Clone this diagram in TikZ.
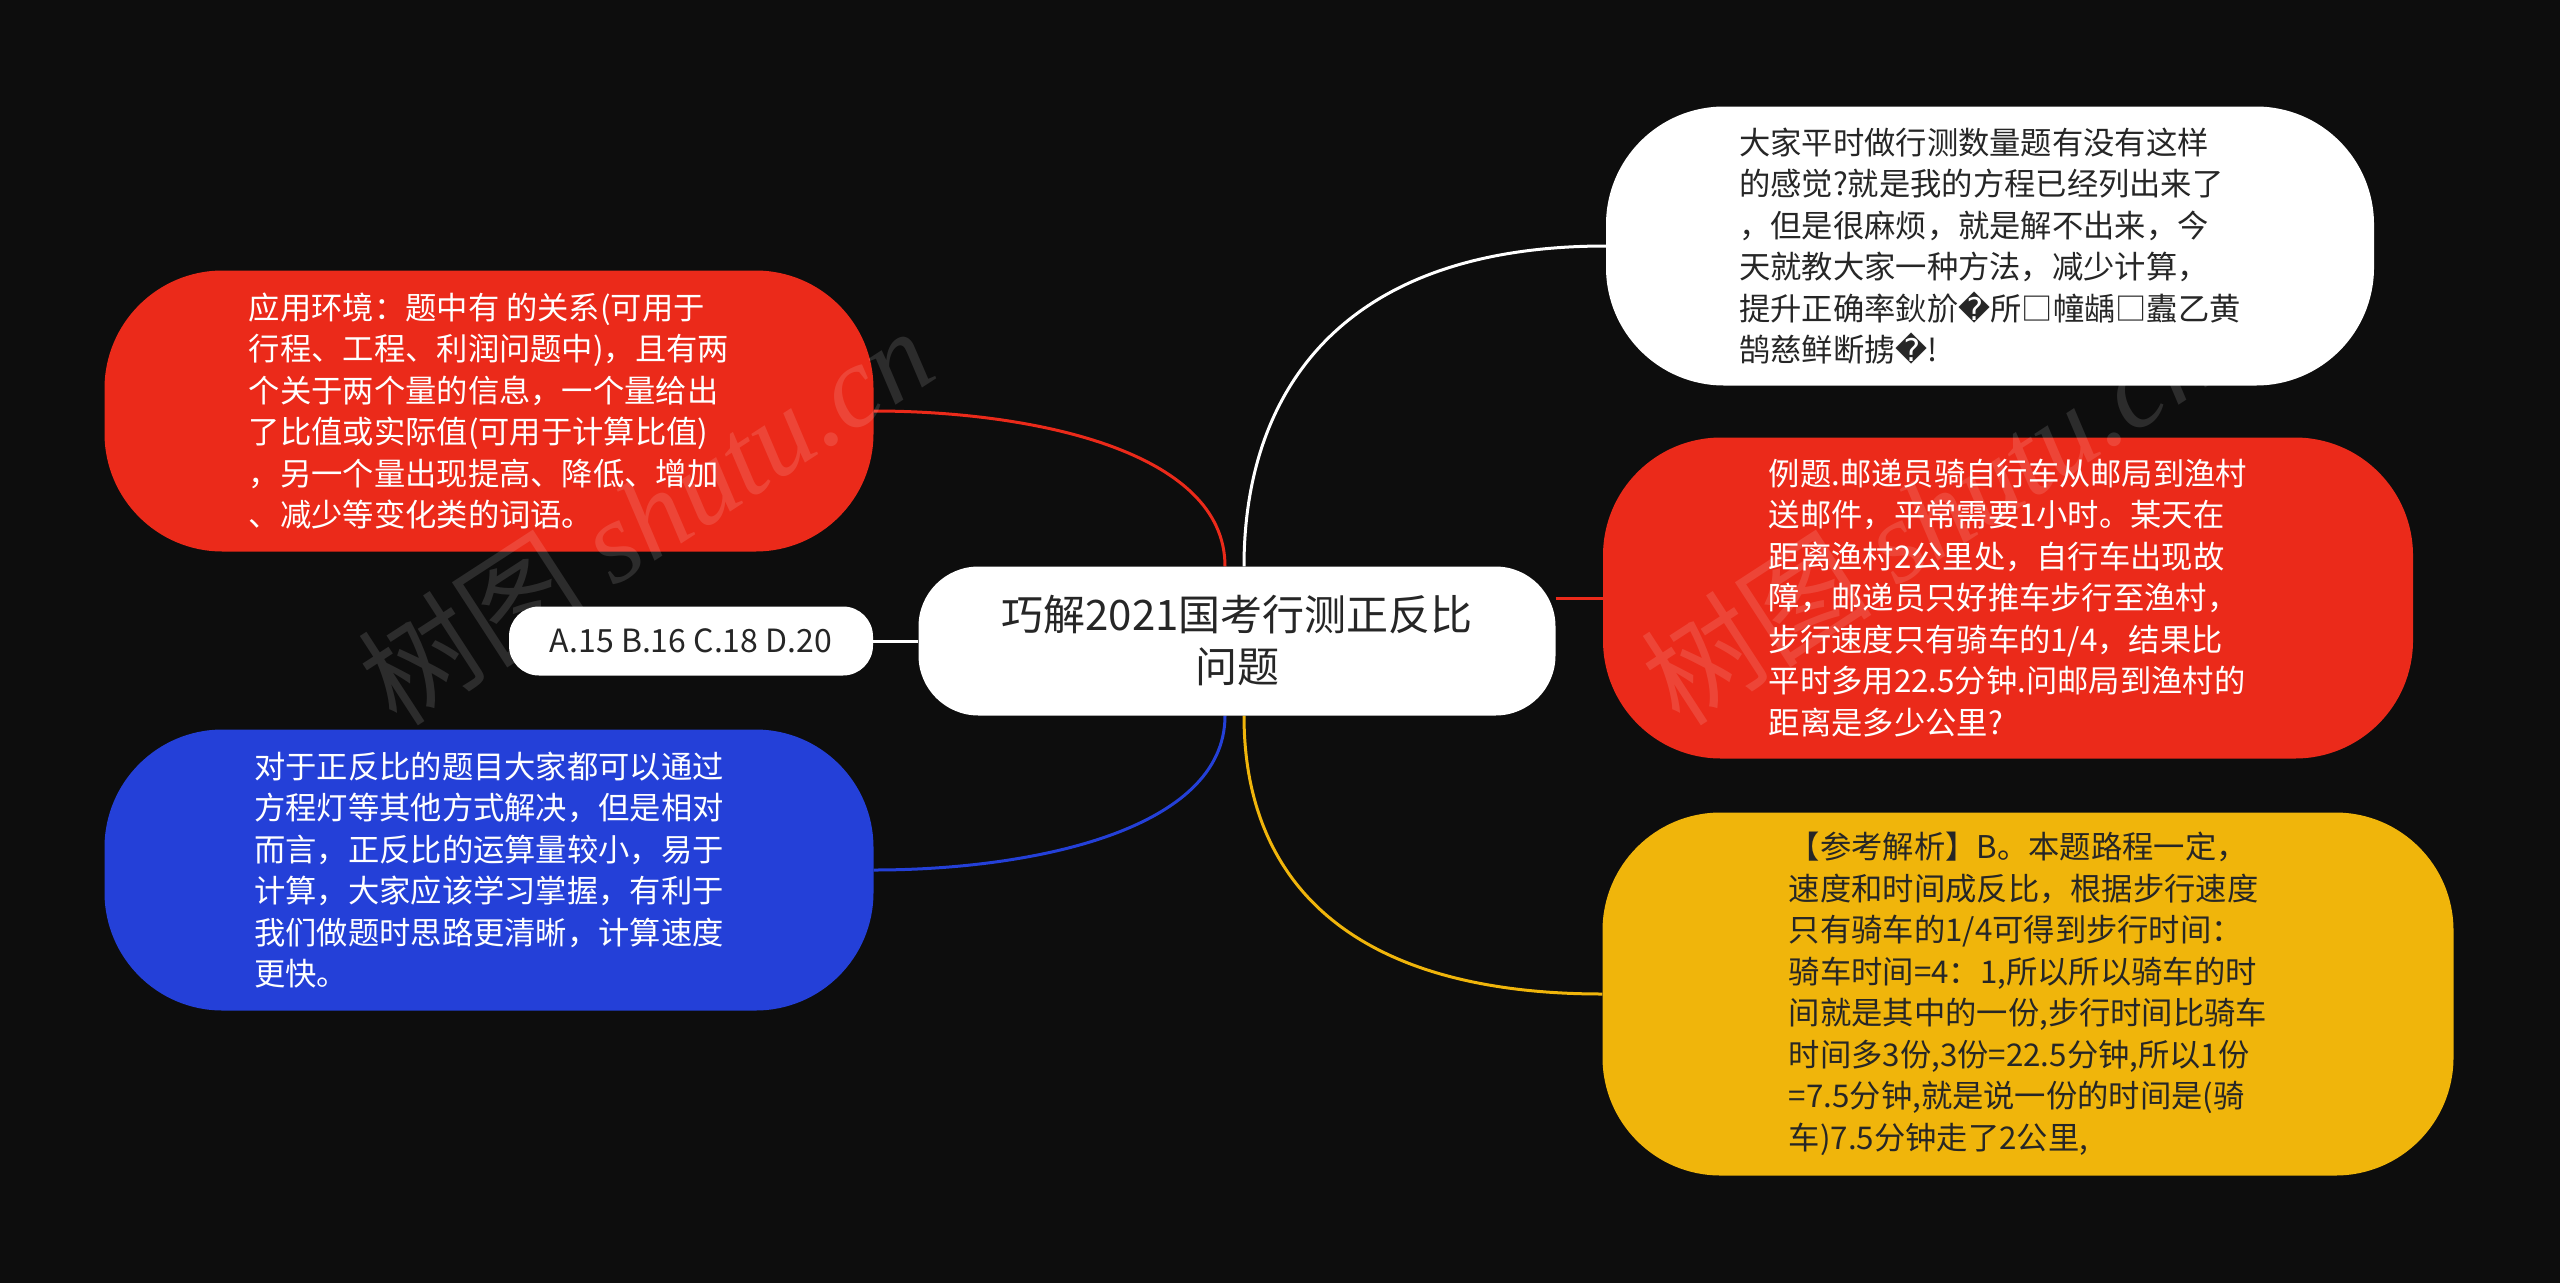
\documentclass[tikz,border=0pt]{standalone}
\usepackage{fontspec}
\setmainfont{Noto Sans CJK SC}
\newfontfamily\dejavufont{DejaVu Sans}
\newfontfamily\wmserif{Liberation Serif}
\newcommand{\repchar}{{\dejavufont\char"FFFD}}
\definecolor{bgc}{HTML}{0D0D0D}
\definecolor{redc}{HTML}{EB2A1A}
\definecolor{bluec}{HTML}{2440D8}
\definecolor{yelc}{HTML}{F0B50B}
\definecolor{txtdark}{HTML}{262626}
\pgfdeclarelayer{bg}
\pgfdeclarelayer{back}
\pgfsetlayers{back,bg,main}
\tikzset{
  bubble/.style={rectangle, rounded corners=118pt, inner sep=0pt, align=left,
    font=\fontsize{31.3pt}{41.5pt}\selectfont},
  conn/.style={line width=3pt},
  wmark/.style={rotate=33, text=white, opacity=0.13,
    font=\fontsize{116pt}{116pt}\selectfont}
}
\begin{document}
\begin{tikzpicture}[x=1pt,y=-1pt]
\begin{pgfonlayer}{back}
\fill[bgc] (0,0) rectangle (2560,1283);
\end{pgfonlayer}
\useasboundingbox (0,0) rectangle (2560,1283);

% central node
\node[rectangle, rounded corners=60pt, fill=white, text=txtdark, align=center,
  minimum width=637pt, minimum height=149pt, inner sep=0pt,
  font=\fontsize{42pt}{52pt}\selectfont] (c) at (1237,641)
  {巧解2021国考行测正反比\\问题};

% options node
\node[rectangle, rounded corners=30pt, fill=white, text=txtdark,
  minimum width=364pt, minimum height=69pt, inner sep=0pt,
  font=\fontsize{32pt}{36pt}\selectfont] (opt) at (691,641)
  {A.15 B.16 C.18 D.20};

% left red
\node[bubble, fill=redc, text=white, minimum width=769pt, minimum height=281pt] (lr) at (489,411)
  {应用环境：题中有 的关系(可用于\\行程、工程、利润问题中)，且有两\\个关于两个量的信息，一个量给出\\了比值或实际值(可用于计算比值)\\，另一个量出现提高、降低、增加\\、减少等变化类的词语。};

% left blue
\node[bubble, fill=bluec, text=white, minimum width=769pt, minimum height=281pt] (lb) at (489,870)
  {对于正反比的题目大家都可以通过\\方程灯等其他方式解决，但是相对\\而言，正反比的运算量较小，易于\\计算，大家应该学习掌握，有利于\\我们做题时思路更清晰，计算速度\\更快。};

% right white
\node[bubble, fill=white, text=txtdark, minimum width=768pt, minimum height=279pt] (rw) at (1990,246)
  {大家平时做行测数量题有没有这样\\的感觉?就是我的方程已经列出来了\\，但是很麻烦，就是解不出来，今\\天就教大家一种方法，减少计算，\\提升正确率鈥斺\repchar 所□幢龋□蠹乙黄\\鹄慈鲜断掳\repchar !};

% right red
\node[bubble, fill=redc, text=white, minimum width=810pt, minimum height=321pt] (rr) at (2008,598)
  {例题.邮递员骑自行车从邮局到渔村\\送邮件，平常需要1小时。某天在\\距离渔村2公里处，自行车出现故\\障，邮递员只好推车步行至渔村，\\步行速度只有骑车的1/4，结果比\\平时多用22.5分钟.问邮局到渔村的\\距离是多少公里?};

% right yellow
\node[bubble, fill=yelc, text=txtdark, minimum width=851pt, minimum height=363pt] (ry) at (2028,994)
  {【参考解析】B。本题路程一定，\\速度和时间成反比，根据步行速度\\只有骑车的1/4可得到步行时间：\\骑车时间=4：1,所以所以骑车的时\\间就是其中的一份,步行时间比骑车\\时间多3份,3份=22.5分钟,所以1份\\=7.5分钟,就是说一份的时间是(骑\\车)7.5分钟走了2公里,};

% connectors
\begin{pgfonlayer}{bg}
\draw[conn, redc] ([xshift=-12pt]c.north) .. controls +(0,-116) and +(157,0) .. (lr.east);
\draw[conn, white] ([xshift=7pt]c.north) .. controls +(0,-166) and +(-273,0) .. (rw.west);
\draw[conn, redc] (c.east |- rr.west) -- (rr.west);
\draw[conn, white] (opt.east) -- (c.west);
\draw[conn, bluec] ([xshift=-12pt]c.south) .. controls +(0,115) and +(157,0) .. (lb.east);
\draw[conn, yelc] ([xshift=7pt]c.south) .. controls +(0,165) and +(-253,0) .. (ry.west);
\end{pgfonlayer}

% watermarks
\node[wmark] (wm1) at (645,515) {树图 {\wmserif\itshape shutu.cn}};
\node[wmark] (wm2) at (1928,515) {树图 {\wmserif\itshape shutu.cn}};
\end{tikzpicture}
\end{document}
